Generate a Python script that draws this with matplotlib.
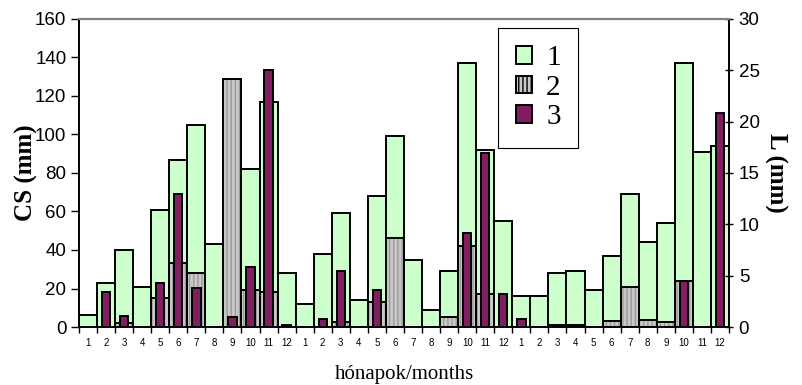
import numpy as np
import matplotlib.pyplot as plt
from matplotlib.patches import Patch

# month labels, three years
months = [str(m) for m in range(1, 13)] * 3

# 1: CS (mm), left axis
cs = [6, 23, 40, 21, 61, 87, 105, 43, 0, 82, 117, 28,
      12, 38, 59, 14, 68, 99, 35, 9, 29, 137, 92, 55,
      16, 16, 28, 29, 19, 37, 69, 44, 54, 137, 91, 94]

# 2: left axis, grey hatched
s2 = [0, 0, 2, 0, 15, 33, 28, 0, 129, 19, 18, 0,
      0, 0, 2.5, 0, 13, 46, 0, 0, 5, 42, 17, 0,
      0, 0, 0.8, 0.8, 0, 3, 21, 3.5, 2.8, 24, 0, 0]

# 3: L (mm), right axis
L = [0, 3.4, 1.1, 0, 4.3, 13.0, 3.8, 0, 1.0, 5.8, 25.0, 0.2,
     0, 0.8, 5.5, 0, 3.6, 0, 0, 0, 0, 9.2, 16.9, 3.2,
     0.8, 0, 0, 0, 0, 0, 0, 0, 0, 4.5, 0, 20.8]

green = '#ccffcc'
grey = '#c8c8c8'
plum = '#7f1f5f'
serif = 'Liberation Serif'
sans = 'Liberation Sans'

x = np.arange(len(months))

fig = plt.figure(figsize=(8.03, 3.85), dpi=100)
ax1 = fig.add_axes([79/803, 58/385, 650/803, 308/385])
ax2 = ax1.twinx()

lw = 1.4
ax1.bar(x, cs, width=1.0, color=green, edgecolor='black', linewidth=lw, zorder=2)
# grey bars: hatch first, then outline
ax1.bar(x, s2, width=1.0, color=grey, edgecolor='#9a9a9a', linewidth=0, hatch='||||', zorder=3)
s2_outline = [v if v > 0 else np.nan for v in s2]
ax1.bar(x, s2_outline, width=1.0, fill=False, edgecolor='black', linewidth=lw, zorder=4)
ax2.bar(x, L, width=0.46, color=plum, edgecolor='black', linewidth=lw, zorder=2)

ax1.set_xlim(-0.5, len(months) - 0.5)
ax1.set_ylim(0, 160)
ax2.set_ylim(0, 30)
ax1.set_yticks(np.arange(0, 161, 20))
ax2.set_yticks(np.arange(0, 31, 5))

ax1.set_xticks(x)
ax1.set_xticklabels(months, fontsize=7, family=sans)
ax1.set_xticks(np.arange(-0.5, len(months), 1), minor=True)
ax1.tick_params(axis='x', which='major', length=0, pad=8)
ax1.tick_params(axis='x', which='minor', length=4, width=1, direction='out')
ax1.tick_params(axis='y', length=6, width=1, labelsize=13.5, direction='out', pad=3)
ax2.tick_params(axis='y', length=6, width=1, labelsize=13.5, direction='inout', pad=4)
for lab in ax1.get_yticklabels() + ax2.get_yticklabels():
    lab.set_family(sans)

for a in (ax1, ax2):
    a.spines['top'].set_color('#808080')
    a.spines['top'].set_linewidth(1.5)
    a.spines['left'].set_linewidth(1.2)
    a.spines['right'].set_linewidth(1.2)
    a.spines['bottom'].set_linewidth(1.2)

ax1.set_ylabel('CS (mm)', family=serif, fontsize=18, fontweight='bold', labelpad=-2)
ax2.set_ylabel('L (mm)', family=serif, fontsize=18, fontweight='bold', rotation=-90, labelpad=20)
ax1.set_xlabel('hónapok/months', family=serif, fontsize=15, labelpad=12)

handles = [Patch(facecolor=green, edgecolor='black', linewidth=lw),
           Patch(facecolor=grey, edgecolor='black', linewidth=lw, hatch='||||'),
           Patch(facecolor=plum, edgecolor='black', linewidth=lw)]
leg = ax2.legend(handles, ['1', '2', '3'], loc='upper left',
                 bbox_to_anchor=((498 - 79) / 650, (327 - 28) / 308),
                 prop={'family': serif, 'size': 21}, fancybox=False,
                 edgecolor='black', framealpha=1, handlelength=0.55, handleheight=0.55,
                 handletextpad=0.5, labelspacing=0.12, borderpad=0.6, borderaxespad=0)
leg.get_frame().set_linewidth(0.8)

fig.savefig('out.png', dpi=100)
